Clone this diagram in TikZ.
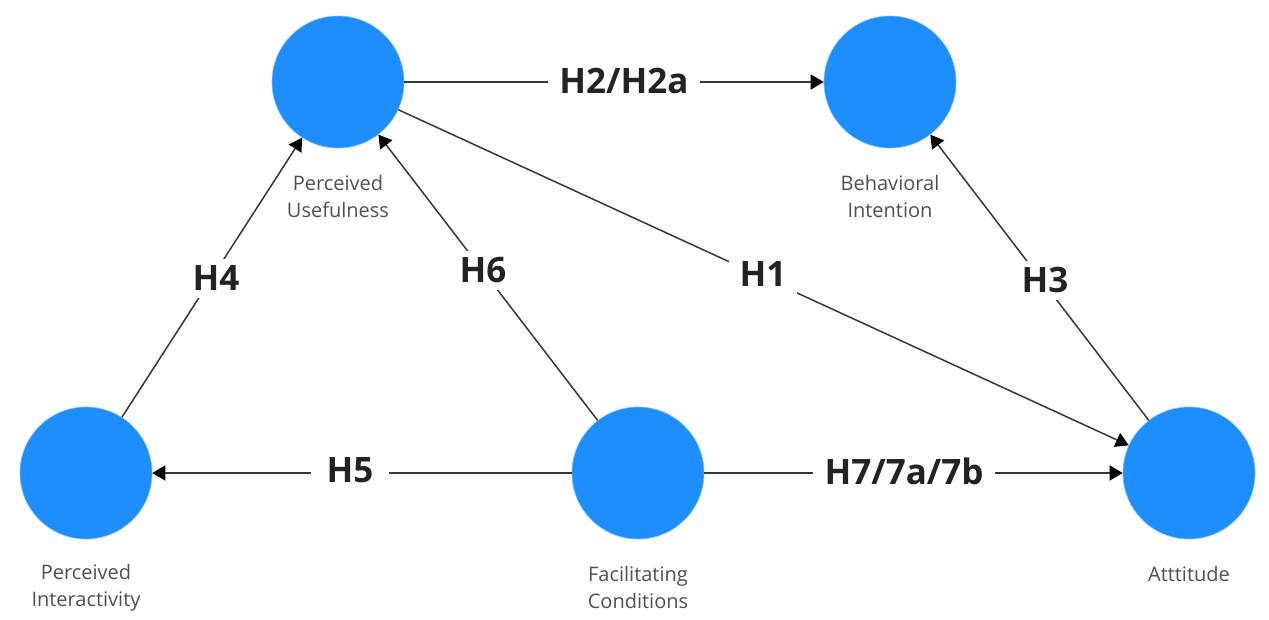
\documentclass[tikz,border=0pt]{standalone}
\usepackage{fontspec}
\setmainfont{Open Sans}
\usetikzlibrary{arrows.meta}
\definecolor{nodeblue}{RGB}{30,142,252}
\definecolor{linegray}{RGB}{55,55,55}
\definecolor{labgray}{RGB}{80,80,80}
\definecolor{hyptext}{RGB}{35,35,35}
\tikzset{
  construct/.style={circle, fill=nodeblue, draw=nodeblue!60, line width=0.6pt, minimum size=132pt, inner sep=0pt},
  clabel/.style={font=\fontsize{20}{27}\selectfont, text=labgray, align=center, inner sep=0pt},
  hyp/.style={font=\bfseries\fontsize{35}{40}\selectfont, text=hyptext, fill=white, text height=25pt, text depth=0pt, inner xsep=11pt, inner ysep=7pt},
  conn/.style={draw=linegray, line width=1.5pt},
  arr/.style={conn, -{Triangle[length=13pt,width=15pt,color=black]}},
}
\begin{document}
\begin{tikzpicture}[x=1pt,y=-1pt]
\useasboundingbox (0,0) rectangle (1269,619);
\fill[white] (0,0) rectangle (1269,619);
% constructs
\node[construct] (pu) at (338,82) {};
\node[construct] (bi) at (890,82) {};
\node[construct] (pi) at (86,473) {};
\node[construct] (fc) at (638,473) {};
\node[construct] (at) at (1189,473) {};
% construct labels
\node[clabel] (pul) at (338,196) {Perceived\\Usefulness};
\node[clabel] (bil) at (890,196) {Behavioral\\Intention};
\node[clabel] (pil) at (86,588) {Perceived\\Interactivity};
\node[clabel] (fcl) at (638,587) {Facilitating\\Conditions};
\node[clabel] (atl) at (1189,574) {Atttitude};
% connectors
\draw[arr] (pu) -- (bi);
\draw[arr] (pu) -- (at);
\draw[arr] (at) -- (bi);
\draw[arr] (pi) -- (pu);
\draw[arr] (fc) -- (pu);
\draw[arr] (fc) -- (pi);
\draw[arr] (fc) -- (at);
% hypothesis labels
\node[hyp] (h2) at (624,81) {H2/H2a};
\node[hyp] (h1) at (763,274) {H1};
\node[hyp] (h3) at (1045,280) {H3};
\node[hyp] (h4) at (216,278) {H4};
\node[hyp] (h6) at (483,270) {H6};
\node[hyp, inner xsep=16pt] (h5) at (350,470) {H5};
\node[hyp, inner xsep=12pt] (h7) at (904,472) {H7/7a/7b};
\end{tikzpicture}
\end{document}
